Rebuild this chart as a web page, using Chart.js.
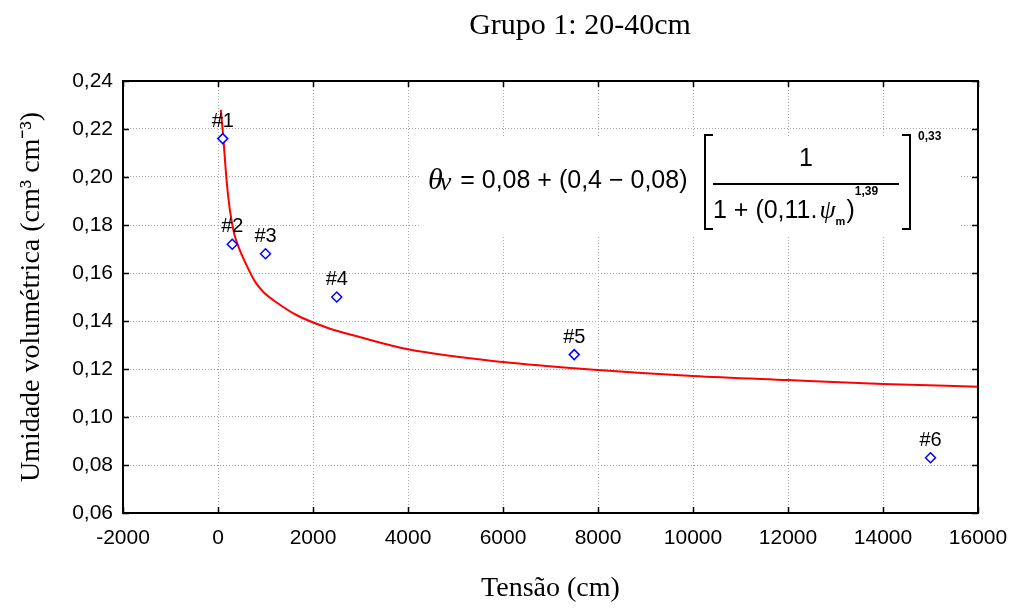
<!DOCTYPE html>
<html>
<head>
<meta charset="utf-8">
<script src="https://cdn.jsdelivr.net/npm/chart.js@4.4.1/dist/chart.umd.min.js"></script>
<style>
    html, body { margin: 0; padding: 0; background: #fff; }
</style>
</head>
<body>
<canvas id="chart" width="1013" height="610"></canvas>
<script>
// pontos observados
const tensao = [100, 300, 1000, 2500, 7500, 15000]
const umidade = [0.216, 0.172, 0.168, 0.150, 0.126, 0.083]
const pontoLabels = ['#1', '#2', '#3', '#4', '#5', '#6']

// curva ajustada
const curvaTensao = [60, 110, 180, 250, 340, 430, 600, 780, 950, 1250, 1650, 2300, 3000, 4000, 6000, 8000, 10000, 12000, 14000, 16000]
const curvaUmidade = [0.228, 0.2168, 0.1988, 0.1863, 0.1765, 0.171, 0.1633, 0.1564, 0.1522, 0.1475, 0.1425, 0.1372, 0.1332, 0.1282, 0.1229, 0.1196, 0.1171, 0.1154, 0.1138, 0.1126]

const xTicks = [-2000, 0, 2000, 4000, 6000, 8000, 10000, 12000, 14000, 16000]
const yTicks = [0.06, 0.08, 0.10, 0.12, 0.14, 0.16, 0.18, 0.20, 0.22, 0.24]

const titulo = 'Grupo 1: 20-40cm'
const tituloX = 'Tensão (cm)'
const tituloY = 'Umidade volumétrica (cm³ cm⁻³)'

const SANS = "'Liberation Sans', Arial, sans-serif"
const SERIF = "'Liberation Serif', 'Times New Roman', serif"

function drawEquation(ctx, area) {
    const ox = area.left
    const oy = area.top
    ctx.save()
    ctx.fillStyle = '#fff'
    ctx.fillRect(ox + 297, oy + 56, 540, 100)

    ctx.fillStyle = '#000'
    ctx.strokeStyle = '#000'
    ctx.textBaseline = 'middle'
    ctx.textAlign = 'left'

    // lado esquerdo
    ctx.font = 'italic 30px ' + SERIF
    ctx.fillText('θ', ox + 305, oy + 100)
    let x = ox + 305 + ctx.measureText('θ').width - 3
    ctx.font = 'italic 26px ' + SERIF
    ctx.fillText('v', x, oy + 102)
    x += ctx.measureText('v').width + 2
    ctx.font = '25px ' + SANS
    ctx.fillText(' = 0,08 + (0,4 − 0,08)', x, oy + 100)

    // colchetes
    ctx.lineWidth = 2
    const bl = ox + 582, br = ox + 787, bt = oy + 54, bb = oy + 148
    ctx.beginPath()
    ctx.moveTo(bl + 8, bt); ctx.lineTo(bl, bt); ctx.lineTo(bl, bb); ctx.lineTo(bl + 8, bb)
    ctx.moveTo(br - 8, bt); ctx.lineTo(br, bt); ctx.lineTo(br, bb); ctx.lineTo(br - 8, bb)
    ctx.stroke()

    // fração
    ctx.beginPath()
    ctx.moveTo(ox + 590, oy + 103)
    ctx.lineTo(ox + 776, oy + 103)
    ctx.stroke()
    ctx.textAlign = 'center'
    ctx.fillText('1', ox + 683, oy + 78)

    ctx.textAlign = 'left'
    x = ox + 590
    ctx.fillText('1 + (0,11.', x, oy + 130)
    x += ctx.measureText('1 + (0,11.').width + 2
    ctx.font = 'italic 26px ' + SERIF
    ctx.fillText('ψ', x, oy + 130)
    x += ctx.measureText('ψ').width
    ctx.font = 'bold 11px ' + SANS
    ctx.fillText('m', x, oy + 141)
    x += ctx.measureText('m').width + 1
    ctx.font = '25px ' + SANS
    ctx.fillText(')', x, oy + 130)
    x += ctx.measureText(')').width
    ctx.font = 'bold 12px ' + SANS
    ctx.fillText('1,39', x, oy + 111)

    ctx.fillText('0,33', br + 8, oy + 56)
    ctx.restore()
}

const molduraPlugin = {
    id: 'moldura',
    beforeDatasetsDraw(chart) {
        drawEquation(chart.ctx, chart.chartArea)
    },
    afterDatasetsDraw(chart) {
        const ctx = chart.ctx
        const meta = chart.getDatasetMeta(1)
        ctx.save()
        ctx.fillStyle = '#000'
        ctx.font = '20px ' + SANS
        ctx.textAlign = 'center'
        ctx.textBaseline = 'alphabetic'
        meta.data.forEach((pt, i) => {
            ctx.fillText(pontoLabels[i], pt.x, pt.y - 12)
        })
        ctx.restore()
    },
    afterDraw(chart) {
        const ctx = chart.ctx
        const { left, right, top, bottom } = chart.chartArea
        const xs = chart.scales.x
        const ys = chart.scales.y
        ctx.save()
        ctx.strokeStyle = '#000'
        ctx.lineWidth = 2
        ctx.strokeRect(left, top, right - left, bottom - top)
        ctx.lineWidth = 1.5
        ctx.beginPath()
        xTicks.forEach(v => {
            const px = Math.round(xs.getPixelForValue(v)) + 0.5
            ctx.moveTo(px, bottom); ctx.lineTo(px, bottom - 6)
            ctx.moveTo(px, top); ctx.lineTo(px, top + 6)
        })
        yTicks.forEach(v => {
            const py = Math.round(ys.getPixelForValue(v)) + 0.5
            ctx.moveTo(left, py); ctx.lineTo(left + 6, py)
            ctx.moveTo(right, py); ctx.lineTo(right - 6, py)
        })
        ctx.stroke()

        ctx.fillStyle = '#000'
        ctx.font = '30px ' + SERIF
        ctx.textAlign = 'center'
        ctx.textBaseline = 'alphabetic'
        ctx.fillText(titulo, 580, 34)
        ctx.restore()
    }
}

const curva = curvaTensao.map((t, i) => ({ x: t, y: curvaUmidade[i] }))
const pontos = tensao.map((t, i) => ({ x: t, y: umidade[i] }))

const ctx = document.getElementById('chart').getContext('2d')
new Chart(ctx, {
    type: 'scatter',
    data: {
        datasets: [{
            type: 'line',
            label: 'Ajuste',
            data: curva,
            borderColor: '#ff0000',
            borderWidth: 2,
            pointRadius: 0,
            fill: false,
            cubicInterpolationMode: 'monotone',
            order: 2
        }, {
            label: 'Observado',
            data: pontos,
            pointStyle: 'rectRot',
            pointRadius: 5,
            borderColor: '#0000ff',
            backgroundColor: '#ffffff',
            borderWidth: 1.5,
            order: 1
        }]
    },
    options: {
        responsive: false,
        animation: false,
        devicePixelRatio: 1,
        layout: {
            padding: { top: 81, right: 35, left: 0, bottom: 0 }
        },
        plugins: {
            legend: { display: false },
            tooltip: { enabled: false }
        },
        scales: {
            x: {
                type: 'linear',
                min: -2000,
                max: 16000,
                afterBuildTicks: scale => { scale.ticks = xTicks.map(v => ({ value: v })) },
                afterFit: scale => {
                    scale.height = 97
                    scale.paddingRight = 0
                    scale.paddingLeft = 0
                },
                ticks: {
                    color: '#000',
                    padding: 13,
                    maxRotation: 0,
                    font: { family: SANS, size: 21 },
                    callback: v => String(v)
                },
                grid: { color: '#a8a8a8', drawTicks: false, lineWidth: 1 },
                border: { display: true, color: '#000', width: 2, dash: [1, 2] },
                title: {
                    display: true,
                    text: tituloX,
                    color: '#000',
                    font: { family: SERIF, size: 28 },
                    padding: { top: 0, bottom: 5 }
                }
            },
            y: {
                min: 0.06,
                max: 0.24,
                afterBuildTicks: scale => { scale.ticks = yTicks.map(v => ({ value: v })) },
                afterFit: scale => { scale.width = 123 },
                ticks: {
                    color: '#000',
                    padding: 10,
                    font: { family: SANS, size: 21 },
                    callback: v => v.toFixed(2).replace('.', ',')
                },
                grid: { color: '#a8a8a8', drawTicks: false, lineWidth: 1 },
                border: { display: true, color: '#000', width: 2, dash: [1, 2] },
                title: {
                    display: true,
                    text: tituloY,
                    color: '#000',
                    font: { family: SERIF, size: 28 },
                    padding: { top: 15, bottom: 0 }
                }
            }
        }
    },
    plugins: [molduraPlugin]
})
</script>
</body>
</html>
